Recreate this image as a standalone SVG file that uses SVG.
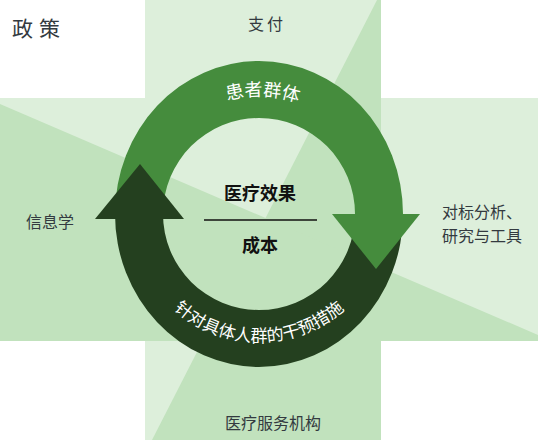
<svg xmlns="http://www.w3.org/2000/svg" width="538" height="440" viewBox="0 0 538 440">
<style>
.lt{fill:#ddefdb}
.dk{fill:#c1e2bd}
.lbl{font-family:"Noto Sans CJK SC","Noto Sans",sans-serif;font-size:16px;fill:#333a40}
.ctr{font-family:"Noto Sans CJK SC","Noto Sans",sans-serif;font-size:18px;font-weight:bold;fill:#111}
.wt{font-family:"Noto Sans CJK SC","Noto Sans",sans-serif;fill:#fff}
</style>
<defs>
<path id="topArc" d="M141,214 A118,118 0 0 1 377,214"/>
<path id="botArc" d="M131,214 A128,128 0 0 0 387,214"/>
</defs>
<rect width="538" height="440" fill="#fff"/>
<g id="background">
<rect class="lt" x="145" y="0" width="236" height="440"/>
<rect class="lt" x="0" y="98" width="538" height="243"/>
<polygon class="dk" points="377,0 381,0 381,440 152,440"/>
<polygon class="dk" points="0,104 538,335 538,341 0,341"/>
</g>
<g id="connectors">
<path id="green-arc" d="M115,214 A144,153 0 0 1 403,214 L355,214 A96,96 0 0 0 163,214 Z" fill="#458c3d"/>
<path id="dark-arc" d="M403,214 A144,153 0 0 1 115,214 L163,214 A96,96 0 0 0 355,214 Z" fill="#24401f"/>
<polygon id="green-head" points="332,214 420,214 376,269" fill="#458c3d"/>
<polygon id="dark-head" points="95,219 184,219 140,164" fill="#24401f"/>
</g>
<g id="node-patients">
<text class="wt" font-size="18"><textPath href="#topArc" startOffset="51%" text-anchor="middle">患者群体</textPath></text>
</g>
<g id="node-interventions">
<text class="wt" font-size="17"><textPath href="#botArc" startOffset="50%" text-anchor="middle">针对具体人群的干预措施</textPath></text>
</g>
<g id="node-center">
<text class="ctr" x="260" y="200" text-anchor="middle">医疗效果</text>
<line x1="204" y1="220" x2="317" y2="220" stroke="#111" stroke-width="1.5"/>
<text class="ctr" x="260" y="252" text-anchor="middle">成本</text>
</g>
<g id="node-policy">
<text class="lbl" x="12" y="36" style="font-size:21px;letter-spacing:6px">政策</text>
</g>
<g id="node-payment">
<text class="lbl" x="267" y="30" text-anchor="middle" style="letter-spacing:3px">支付</text>
</g>
<g id="node-informatics">
<text class="lbl" x="50" y="228" text-anchor="middle">信息学</text>
</g>
<g id="node-benchmark">
<text class="lbl" x="442" y="218">对标分析、</text>
<text class="lbl" x="442" y="242">研究与工具</text>
</g>
<g id="node-providers">
<text class="lbl" x="273" y="429" text-anchor="middle">医疗服务机构</text>
</g>
</svg>
